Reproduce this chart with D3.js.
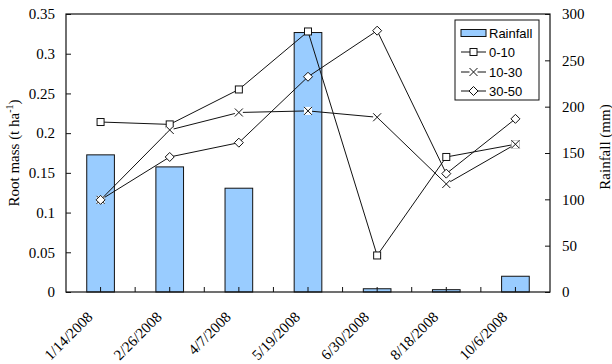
<!DOCTYPE html>
<html><head><meta charset="utf-8">
<script src="https://cdn.jsdelivr.net/npm/d3@7"></script>
<style>body{margin:0;background:#fff}svg{display:block}</style>
</head><body>
<script>
const categories = ["1/14/2008","2/26/2008","4/7/2008","5/19/2008","6/30/2008","8/18/2008","10/6/2008"];
const rainfall = [148, 135, 112, 280, 3.5, 2.5, 17];
const s0_10 = [0.214, 0.211, 0.255, 0.328, 0.046, 0.170, 0.186];
const s10_30 = [0.116, 0.204, 0.226, 0.228, 0.220, 0.136, 0.186];
const s30_50 = [0.116, 0.170, 0.188, 0.271, 0.329, 0.149, 0.218];
const leftTicks = [0,0.05,0.1,0.15,0.2,0.25,0.3,0.35];
const rightTicks = [0,50,100,150,200,250,300];
const seriesNames = ["0-10","10-30","30-50"];

const W=612,H=364;
const m={l:66,r:550,t:14,b:292};
const svg=d3.select("body").append("svg").attr("width",W).attr("height",H);
const x=d3.scaleBand().domain(categories).range([m.l,m.r]).padding(0);
const yL=d3.scaleLinear().domain([0,0.35]).range([m.b,m.t]);
const yR=d3.scaleLinear().domain([0,300]).range([m.b,m.t]);
const serif="'Liberation Serif','Times New Roman',serif";
const sans="'Liberation Sans',Arial,sans-serif";

// bars
const bw=x.bandwidth()*0.4;
svg.append("g").selectAll("rect").data(rainfall).join("rect")
  .attr("x",(d,i)=>x(categories[i])+x.bandwidth()/2-bw/2)
  .attr("y",d=>yR(d)).attr("width",bw).attr("height",d=>m.b-yR(d))
  .attr("fill","#99CCFF").attr("stroke","#111").attr("stroke-width",1);

// frame
svg.append("rect").attr("x",m.l).attr("y",m.t).attr("width",m.r-m.l).attr("height",m.b-m.t)
  .attr("fill","none").attr("stroke","#111").attr("stroke-width",1.2);

// left axis
const gl=svg.append("g").attr("transform",`translate(${m.l},0)`)
  .call(d3.axisLeft(yL).tickValues(leftTicks).tickSize(-5).tickSizeOuter(0).tickPadding(11).tickFormat(d=>d3.format("")(d)));
gl.select(".domain").remove();
gl.selectAll("text").attr("font-family",serif).attr("font-size",15).attr("fill","#000");
gl.selectAll("line").attr("stroke","#111");

// right axis
const gr=svg.append("g").attr("transform",`translate(${m.r},0)`)
  .call(d3.axisRight(yR).tickValues(rightTicks).tickSize(-5).tickSizeOuter(0).tickPadding(12));
gr.select(".domain").remove();
gr.selectAll("text").attr("font-family",serif).attr("font-size",15).attr("fill","#000");
gr.selectAll("line").attr("stroke","#111");

// bottom axis ticks at band boundaries
const bounds=categories.map(c=>x(c)).slice(1);
svg.append("g").selectAll("line").data(bounds).join("line")
  .attr("x1",d=>d).attr("x2",d=>d).attr("y1",m.b).attr("y2",m.b-5).attr("stroke","#111");
// center ticks (seen through bars)
svg.append("g").selectAll("line").data(categories).join("line")
  .attr("x1",d=>x(d)+x.bandwidth()/2).attr("x2",d=>x(d)+x.bandwidth()/2).attr("y1",m.b).attr("y2",m.b-5).attr("stroke","#111");
svg.append("g").selectAll("text").data(categories).join("text")
  .attr("transform",d=>`translate(${x(d)+x.bandwidth()/2-7},${m.b+26}) rotate(-45)`)
  .attr("text-anchor","end").attr("font-family",serif).attr("font-size",15).text(d=>d);

// axis titles
const lt=svg.append("text").attr("transform",`translate(19,${(m.t+m.b)/2}) rotate(-90)`)
  .attr("text-anchor","middle").attr("font-family",serif).attr("font-size",15);
lt.append("tspan").text("Root mass (t ha");
lt.append("tspan").attr("font-size",10).attr("dy",-6).text("-1");
lt.append("tspan").attr("dy",6).text(")");
svg.append("text").attr("transform",`translate(610,147) rotate(-90)`)
  .attr("text-anchor","middle").attr("font-family",serif).attr("font-size",15).text("Rainfall (mm)");

// lines
const data=[s0_10,s10_30,s30_50];
const line=d3.line().x((d,i)=>x(categories[i])+x.bandwidth()/2).y(d=>yL(d));
data.forEach(s=>svg.append("path").attr("d",line(s)).attr("fill","none").attr("stroke","#111").attr("stroke-width",1));

function marker(g,type,cx,cy){
  if(type===0){
    g.append("rect").attr("x",cx-3.5).attr("y",cy-3.5).attr("width",7).attr("height",7)
      .attr("fill","#fff").attr("stroke","#111");
  } else if(type===1){
    g.append("rect").attr("x",cx-4).attr("y",cy-4).attr("width",8).attr("height",8).attr("fill","#fff");
    g.append("path").attr("d",`M${cx-4},${cy-4}L${cx+4},${cy+4}M${cx-4},${cy+4}L${cx+4},${cy-4}`)
      .attr("stroke","#111").attr("fill","none");
  } else {
    g.append("path").attr("d",`M${cx},${cy-4.5}L${cx+4.5},${cy}L${cx},${cy+4.5}L${cx-4.5},${cy}Z`)
      .attr("fill","#fff").attr("stroke","#111");
  }
}
const mg=svg.append("g");
data.forEach((s,k)=>s.forEach((v,i)=>marker(mg,k,x(categories[i])+x.bandwidth()/2,yL(v))));

// legend
const lg=svg.append("g");
lg.append("rect").attr("x",455).attr("y",20).attr("width",84).attr("height",80).attr("fill","#fff").attr("stroke","#111");
const ly=[33,52,72,91];
lg.append("rect").attr("x",461).attr("y",ly[0]-3.5).attr("width",25).attr("height",7).attr("fill","#99CCFF").attr("stroke","#111");
seriesNames.forEach((n,k)=>{
  lg.append("line").attr("x1",461).attr("x2",486).attr("y1",ly[k+1]).attr("y2",ly[k+1]).attr("stroke","#111");
  marker(lg,k,473.5,ly[k+1]);
});
["Rainfall",...seriesNames].forEach((n,k)=>lg.append("text").attr("x",489).attr("y",ly[k]).attr("dy","0.35em")
  .attr("font-family",sans).attr("font-size",13).text(n));
</script>
</body></html>
